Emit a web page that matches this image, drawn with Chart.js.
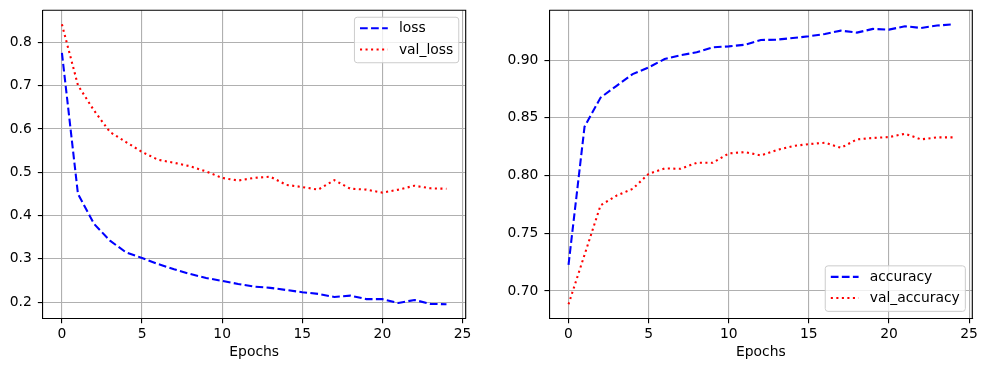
<!DOCTYPE html>
<html><head><meta charset="utf-8">
<script src="https://cdn.jsdelivr.net/npm/chart.js@4.4.0/dist/chart.umd.min.js"></script>
<style>
html,body{margin:0;padding:0;background:#fff;}
#wrap{position:relative;width:987px;height:371px;overflow:hidden;background:#fff;}
canvas{position:absolute;top:0;}
</style></head><body>
<div id="wrap">
<canvas id="c1" width="480" height="371" style="left:0px"></canvas>
<canvas id="c2" width="497" height="371" style="left:490px"></canvas>
</div>
<script>
// ---- data ----
const epochs = [0,1,2,3,4,5,6,7,8,9,10,11,12,13,14,15,16,17,18,19,20,21,22,23,24];
const loss = [0.776,0.450,0.381,0.342,0.315,0.302,0.288,0.276,0.265,0.256,0.249,0.242,0.236,0.233,0.228,0.223,0.219,0.212,0.215,0.207,0.207,0.198,0.205,0.196,0.195];
const valLoss = [0.842,0.701,0.643,0.593,0.570,0.547,0.529,0.522,0.514,0.502,0.487,0.481,0.487,0.490,0.471,0.466,0.460,0.482,0.462,0.460,0.453,0.460,0.469,0.463,0.462];
const accuracy = [0.7226,0.8423,0.8675,0.8777,0.8878,0.8936,0.9009,0.9043,0.9067,0.9110,0.9119,0.9133,0.9174,0.9177,0.9191,0.9206,0.9226,0.9255,0.9238,0.9270,0.9264,0.9293,0.9278,0.9299,0.9310];
const valAccuracy = [0.6884,0.7313,0.7742,0.7826,0.7884,0.8014,0.8061,0.8058,0.8110,0.8110,0.8191,0.8203,0.8174,0.8220,0.8255,0.8272,0.8284,0.8240,0.8313,0.8325,0.8333,0.8362,0.8313,0.8330,0.8330];
const xTicks = [0,5,10,15,20,25];
const lossTicks = [0.2,0.3,0.4,0.5,0.6,0.7,0.8];
const accTicks = [0.70,0.75,0.80,0.85,0.90];
const xTitle = 'Epochs';

// ---- styling helpers ----
const PT = 100/72;
const FS = 10*PT;
const FONT = 'DejaVu Sans';
Chart.defaults.font.family = FONT;
Chart.defaults.font.size = FS;
Chart.defaults.color = '#000';

function pts(arr){ return arr.map((v,i)=>({x: epochs[i], y: v})); }
function margin(a, b){
  const all = a.concat(b);
  const lo = Math.min(...all), hi = Math.max(...all), m = (hi-lo)*0.05;
  return [lo-m, hi+m];
}

const spinePlugin = {
  id: 'spines',
  afterDatasetsDraw(chart){
    const ctx = chart.ctx, ca = chart.chartArea;
    ctx.save();
    ctx.strokeStyle = '#000';
    ctx.lineWidth = 0.8*PT;
    ctx.beginPath();
    ctx.moveTo(ca.left, ca.top);
    ctx.lineTo(ca.right, ca.top);
    ctx.lineTo(ca.right, ca.bottom);
    ctx.stroke();
    ctx.restore();
  }
};

const legendPlugin = {
  id: 'mplLegend',
  afterDraw(chart, args, opts){
    const ctx = chart.ctx, ca = chart.chartArea;
    const items = chart.data.datasets;
    ctx.save();
    ctx.font = FS + 'px "' + FONT + '"';
    const tw = Math.max(...items.map(d=>ctx.measureText(d.label).width));
    const pad = 0.4*FS, hl = 2*FS, htp = 0.8*FS;
    const w = 2*pad + hl + htp + tw;
    const h = 45.5;
    const x = ca.right - 0.5*FS - w;
    const y = opts.loc === 'upper right' ? ca.top + 0.5*FS : ca.bottom - 0.5*FS - h;
    const r = 0.2*FS;
    ctx.beginPath();
    ctx.moveTo(x+r, y);
    ctx.arcTo(x+w, y, x+w, y+h, r);
    ctx.arcTo(x+w, y+h, x, y+h, r);
    ctx.arcTo(x, y+h, x, y, r);
    ctx.arcTo(x, y, x+w, y, r);
    ctx.closePath();
    ctx.fillStyle = 'rgba(255,255,255,0.8)';
    ctx.fill();
    ctx.strokeStyle = '#cccccc';
    ctx.lineWidth = 1;
    ctx.stroke();
    items.forEach((d,i)=>{
      const cy = y + 11 + i*21.2;
      ctx.beginPath();
      ctx.setLineDash(d.borderDash);
      ctx.lineDashOffset = 0;
      ctx.strokeStyle = d.borderColor;
      ctx.lineWidth = d.borderWidth;
      ctx.moveTo(x+pad, cy);
      ctx.lineTo(x+pad+hl, cy);
      ctx.stroke();
      ctx.setLineDash([]);
      ctx.fillStyle = '#000';
      ctx.textAlign = 'left';
      ctx.textBaseline = 'middle';
      ctx.fillText(d.label, x+pad+hl+htp, cy+0.5);
    });
    ctx.restore();
  }
};

function makeChart(id, s1, s2, names, yTicks, decimals, loc, yAxisWidth, rightPad){
  const [ymin, ymax] = margin(s1, s2);
  return new Chart(document.getElementById(id), {
    type: 'line',
    data: {
      datasets: [
        {label: names[0], data: pts(s1), borderColor: '#0000ff', borderWidth: 1.5*PT,
         borderDash: [3.7*1.5*PT, 1.6*1.5*PT], pointRadius: 0, tension: 0, fill: false},
        {label: names[1], data: pts(s2), borderColor: '#ff0000', borderWidth: 1.5*PT,
         borderDash: [1*1.5*PT, 1.65*1.5*PT], pointRadius: 0, tension: 0, fill: false}
      ]
    },
    options: {
      responsive: false,
      animation: false,
      events: [],
      layout: {padding: {top: 10.3, right: rightPad, left: 0, bottom: 0}},
      plugins: {legend: {display: false}, tooltip: {enabled: false}, mplLegend: {loc: loc}},
      scales: {
        x: {
          type: 'linear', min: -1.2, max: 25.2,
          afterBuildTicks: sc => { sc.ticks = xTicks.map(v=>({value: v})); },
          afterFit: sc => { sc.height = 371 - 318.3; sc.paddingLeft = 0; sc.paddingRight = 0; },
          grid: {color: '#b0b0b0', lineWidth: 0.8*PT, tickLength: 3.5*PT, tickColor: '#000', tickWidth: 0.8*PT},
          border: {display: true, color: '#000', width: 0.8*PT},
          ticks: {color: '#000', padding: 3, maxRotation: 0, font: {size: FS}, callback: v => String(v)},
          title: {display: true, text: xTitle, color: '#000', font: {size: FS}, padding: {top: 0, bottom: 10}}
        },
        y: {
          type: 'linear', min: ymin, max: ymax,
          afterBuildTicks: sc => { sc.ticks = yTicks.map(v=>({value: v})); },
          afterFit: sc => { sc.width = yAxisWidth; sc.paddingTop = 0; sc.paddingBottom = 0; },
          grid: {color: '#b0b0b0', lineWidth: 0.8*PT, tickLength: 3.5*PT, tickColor: '#000', tickWidth: 0.8*PT},
          border: {display: true, color: '#000', width: 0.8*PT},
          ticks: {color: '#000', padding: 6, font: {size: FS}, callback: v => Number(v).toFixed(decimals)}
        }
      }
    },
    plugins: [spinePlugin, legendPlugin]
  });
}

makeChart('c1', loss, valLoss, ['loss','val_loss'], lossTicks, 1, 'upper right', 42.7, 480-465.7);
makeChart('c2', accuracy, valAccuracy, ['accuracy','val_accuracy'], accTicks, 2, 'lower right', 59.3, 497-482.3);
</script>
</body></html>
